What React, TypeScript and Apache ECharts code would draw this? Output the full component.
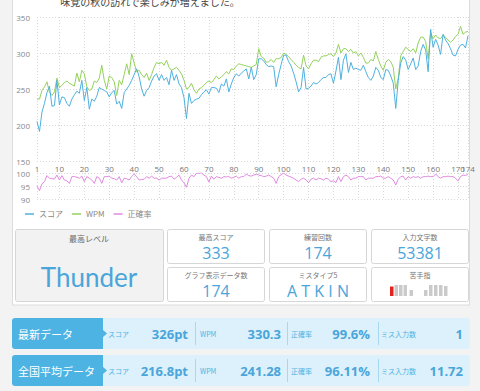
import React, { useEffect, useRef } from "react";
import * as echarts from "echarts";

const titleText = "味覚の秋の訪れで楽しみが増えました。";
const seriesNames = ["スコア", "WPM", "正確率"];
const scoreTicks = [150, 200, 250, 300, 350];
const accuracyTicks = [90, 95, 100];

const scores = [
  205, 191, 218, 230, 245, 254, 226, 227, 262, 228,
  239, 238, 230, 226, 236, 242, 247, 244, 262, 234,
  252, 222, 236, 233, 240, 252, 250, 248, 246, 239,
  245, 248, 229, 233, 223, 245, 250, 255, 262, 270,
  278, 267, 250, 240, 248, 252, 261, 268, 271, 262,
  270, 262, 266, 256, 276, 262, 270, 257, 252, 238,
  209, 244, 230, 234, 236, 237, 242, 246, 249, 243,
  252, 252, 251, 245, 257, 254, 264, 246, 257, 266,
  271, 268, 272, 275, 278, 264, 280, 263, 270, 292,
  292, 289, 284, 281, 282, 281, 253, 270, 284, 297,
  297, 288, 282, 272, 260, 246, 252, 280, 250, 251,
  254, 259, 257, 259, 263, 266, 266, 270, 271, 258,
  275, 294, 263, 290, 299, 273, 287, 277, 279, 277,
  276, 283, 274, 266, 262, 268, 280, 276, 266, 263,
  277, 276, 268, 258, 223, 262, 286, 295, 290, 277,
  285, 293, 277, 282, 302, 312, 304, 274, 333, 308,
  319, 311, 298, 326, 318, 313, 306, 297, 296, 305,
  311, 312, 307, 324,
];

const wpm = [
  236, 236, 248, 253, 260, 245, 241, 246, 265, 252,
  255, 259, 261, 258, 256, 254, 272, 260, 276, 271,
  253, 248, 250, 261, 259, 265, 283, 262, 250, 268,
  266, 260, 241, 262, 256, 270, 285, 270, 299, 286,
  274, 276, 270, 266, 272, 262, 270, 280, 287, 285,
  287, 283, 290, 280, 276, 278, 280, 276, 271, 262,
  250, 252, 258, 249, 244, 250, 252, 255, 259, 261,
  259, 263, 268, 264, 267, 270, 274, 271, 278, 277,
  282, 285, 284, 283, 282, 281, 280, 282, 284, 306,
  295, 293, 287, 288, 291, 287, 292, 292, 294, 300,
  298, 295, 291, 287, 283, 280, 278, 297, 282, 278,
  285, 290, 290, 288, 294, 296, 296, 298, 299, 295,
  300, 312, 300, 306, 306, 302, 305, 300, 302, 296,
  300, 294, 286, 286, 291, 289, 302, 291, 282, 276,
  287, 291, 288, 280, 250, 265, 296, 302, 308, 305,
  302, 306, 300, 314, 322, 322, 316, 292, 328, 320,
  325, 321, 320, 325, 322, 318, 315, 318, 323, 326,
  337, 326, 329, 330,
];

const accuracy = [
  95.0, 93.2, 95.8, 96.7, 99.0, 98.0, 97.8, 97.7, 99.2, 97.3,
  99.0, 97.3, 97.0, 96.0, 98.6, 98.6, 98.4, 98.0, 98.8, 96.7,
  98.6, 98.0, 97.3, 96.0, 98.6, 98.0, 96.0, 98.6, 98.6, 98.8,
  98.0, 97.8, 97.3, 98.6, 96.2, 98.0, 97.8, 97.3, 98.6, 99.6,
  98.6, 97.3, 97.5, 97.6, 98.6, 98.0, 98.8, 98.0, 98.0, 97.3,
  98.0, 98.0, 98.0, 98.6, 98.8, 97.6, 98.3, 99.2, 97.3, 96.2,
  94.5, 98.0, 99.2, 98.6, 99.9, 99.9, 100, 99.2, 98.6, 96.5,
  98.8, 97.6, 98.6, 98.3, 98.0, 98.6, 98.5, 98.6, 98.0, 98.3,
  98.8, 98.0, 98.6, 98.6, 99.6, 99.0, 98.8, 99.2, 99.6, 99.2,
  99.0, 98.6, 98.8, 99.2, 98.6, 98.0, 96.0, 98.6, 99.4, 99.9,
  99.2, 98.8, 98.4, 98.0, 97.3, 96.7, 97.6, 98.0, 97.3, 96.3,
  97.6, 98.0, 97.3, 98.0, 97.8, 97.3, 98.0, 97.6, 96.7, 97.0,
  96.3, 98.6, 96.7, 98.6, 99.2, 98.6, 97.3, 98.0, 98.0, 98.6,
  98.6, 98.6, 97.3, 98.0, 98.0, 98.0, 98.6, 98.6, 98.8, 98.0,
  98.0, 98.6, 98.0, 97.3, 95.4, 97.6, 98.6, 98.8, 97.3, 98.6,
  98.0, 98.6, 98.3, 98.6, 98.0, 98.6, 98.6, 98.8, 98.6, 98.6,
  99.6, 98.6, 98.0, 98.6, 98.6, 98.8, 98.6, 98.6, 98.0, 97.0,
  98.6, 99.2, 99.0, 99.6,
];

const categories = scores.map((_, i) => String(i + 1));

const bestLevelLabel = "最高レベル";
const bestLevel = "Thunder";
const statLabels = ["最高スコア", "練習回数", "入力文字数", "グラフ表示データ数", "ミスタイプ5", "苦手指"];
const statValues = ["333", "174", "53381", "174", "A T K I N", ""];
const fingerWeak = [true, false, false, false, false, false, false, false, false, false];

const rowTitles = ["最新データ", "全国平均データ"];
const itemLabels = ["スコア", "WPM", "正確率", "ミス入力数"];
const latestValues = ["326pt", "330.3", "99.6%", "1"];
const averageValues = ["216.8pt", "241.28", "96.11%", "11.72"];

const BLUE = "#4fb1df";
const GREEN = "#93d25a";
const PINK = "#e08ae0";
const VALUE_BLUE = "#4aa5da";
const JP = "'Noto Sans CJK JP', sans-serif";
const NUM = "'Open Sans', 'Noto Sans CJK JP', sans-serif";

function txt(x: number, y: number, text: string, size: number, fill: string, align = "left", extra: any = {}) {
  return {
    type: "text",
    x,
    y,
    z: 10,
    style: {
      text,
      fill,
      fontSize: size,
      fontFamily: extra.fontFamily || JP,
      fontWeight: extra.fontWeight || "normal",
      align,
      textAlign: align,
      verticalAlign: "middle",
      textVerticalAlign: "middle",
    },
  };
}

function buildGraphics() {
  const g: any[] = [];
  g.push({ type: "rect", z: -100, shape: { x: 12.5, y: -5, width: 457, height: 310 }, style: { fill: "#ffffff", stroke: "#dcdcdc", lineWidth: 1 } });
  g.push(txt(150, 1, titleText, 10, "#444", "center"));
  g.push({ type: "rect", z: 1, shape: { x: 15.5, y: 229.5, width: 148, height: 72, r: 2 }, style: { fill: "#f2f2f2", stroke: "#d6d6d6", lineWidth: 1 } });
  g.push(txt(89, 238, bestLevelLabel, 8, "#666", "center"));
  g.push(txt(89, 277, bestLevel, 26, VALUE_BLUE, "center", { fontFamily: "Lato, 'Open Sans', sans-serif" }));
  const boxX = [167.5, 269.5, 371.5];
  const boxW = [97, 97, 97];
  const rowY = [229.5, 267.5];
  for (let k = 0; k < 6; k++) {
    const c = k % 3;
    const r = Math.floor(k / 3);
    const bx = boxX[c];
    const by = rowY[r];
    const cx = bx + boxW[c] / 2;
    g.push({ type: "rect", z: 1, shape: { x: bx, y: by, width: boxW[c], height: 34, r: 2 }, style: { fill: "#ffffff", stroke: "#d6d6d6", lineWidth: 1 } });
    g.push(txt(cx, by + 7, statLabels[k], 7, "#777", "center"));
    if (statValues[k]) {
      g.push(txt(cx, by + 23, statValues[k], 16, VALUE_BLUE, "center", { fontFamily: NUM }));
    }
  }
  const fingerX = [390, 394.5, 399, 403.5, 409.5, 424, 429, 434, 439, 444];
  const fingerH = [9.5, 11, 11, 11, 6, 6, 11, 11, 11, 10];
  for (let f = 0; f < 10; f++) {
    g.push({ type: "rect", z: 2, shape: { x: fingerX[f], y: 296 - fingerH[f], width: 3.5, height: fingerH[f] }, style: { fill: fingerWeak[f] ? "#e3231b" : "#cacaca" } });
  }
  const rowsTop = [318, 355];
  const labelLeft = [108, 200, 291, 381];
  const valueRight = [188, 281, 370, 463];
  const seps = [195, 287, 378];
  for (let r = 0; r < 2; r++) {
    const y0 = rowsTop[r];
    const h = 31;
    const mid = y0 + h / 2;
    g.push({ type: "rect", z: 1, shape: { x: 100, y: y0, width: 370, height: h, r: [0, 3, 3, 0] }, style: { fill: "#dcf1fb" } });
    g.push({ type: "rect", z: 2, shape: { x: 12, y: y0, width: 91, height: h, r: [3, 0, 0, 3] }, style: { fill: "#4db3e3" } });
    g.push({ type: "polygon", z: 2, shape: { points: [[103, mid - 3.5], [107, mid], [103, mid + 3.5]] }, style: { fill: "#4db3e3" } });
    g.push(txt(18, mid, rowTitles[r], 11, "#ffffff", "left"));
    const vals = r === 0 ? latestValues : averageValues;
    for (let k = 0; k < 4; k++) {
      g.push(txt(labelLeft[k], mid, itemLabels[k], 7, "#4db3e3", "left"));
      g.push(txt(valueRight[k], mid, vals[k], 13, VALUE_BLUE, "right", { fontFamily: NUM, fontWeight: "bold" }));
    }
    for (const s of seps) {
      g.push({ type: "line", z: 2, shape: { x1: s + 0.5, y1: y0 + 4, x2: s + 0.5, y2: y0 + h - 4 }, style: { stroke: "#a6d8ef", lineWidth: 1 } });
    }
  }
  return g;
}

const lastIdx = categories.length - 1;
const gridShown = (i: number) => i === 0 || (i + 1) % 10 === 0 || i === lastIdx;
const labelShown = (i: number) => i === 0 || (i + 1) % 10 === 0;

export default function App() {
  const ref = useRef<HTMLDivElement>(null);
  useEffect(() => {
    if (!ref.current) return;
    const chart = echarts.init(ref.current, undefined, { renderer: "svg" });
    const split = { show: true, interval: (i: number) => gridShown(i), lineStyle: { color: "#d8d8d8", type: [1, 2] as any, width: 1 } };
    chart.setOption({
      animation: false,
      backgroundColor: "#f3f3f3",
      textStyle: { fontFamily: NUM },
      grid: [
        { left: 37, width: 431, top: 17, height: 144 },
        { left: 37, width: 431, top: 173, height: 26 },
      ],
      legend: {
        left: 20,
        top: 205,
        icon: "rect",
        itemWidth: 9,
        itemHeight: 1.5,
        itemGap: 9,
        textStyle: { fontSize: 8, color: "#888", fontFamily: JP },
        data: seriesNames,
      },
      xAxis: [
        {
          type: "category", gridIndex: 0, data: categories, boundaryGap: false,
          axisLine: { show: false }, axisTick: { show: false },
          axisLabel: { interval: (i: number) => labelShown(i), fontSize: 8, color: "#777", margin: 3 },
          splitLine: split,
        },
        {
          type: "category", gridIndex: 1, data: categories, boundaryGap: false, position: "top",
          axisLine: { show: false }, axisTick: { show: false },
          axisLabel: { interval: (i: number) => i === lastIdx, fontSize: 8, color: "#777", margin: 1 },
          splitLine: split,
        },
      ],
      yAxis: [
        {
          type: "value", gridIndex: 0, min: scoreTicks[0], max: scoreTicks[scoreTicks.length - 1], interval: 50,
          axisLine: { show: false }, axisTick: { show: false },
          axisLabel: { fontSize: 8, color: "#888", margin: 7 },
          splitLine: { lineStyle: { color: "#d8d8d8", type: [1, 2] as any } },
        },
        {
          type: "value", gridIndex: 1, min: accuracyTicks[0], max: accuracyTicks[accuracyTicks.length - 1], interval: 5,
          axisLine: { show: false }, axisTick: { show: false },
          axisLabel: { fontSize: 8, color: "#888", margin: 7 },
          splitLine: { lineStyle: { color: "#d8d8d8", type: [1, 2] as any } },
        },
      ],
      series: [
        { name: seriesNames[0], type: "line", xAxisIndex: 0, yAxisIndex: 0, data: scores, symbol: "none", color: BLUE, lineStyle: { width: 1, color: BLUE }, z: 3 },
        { name: seriesNames[1], type: "line", xAxisIndex: 0, yAxisIndex: 0, data: wpm, symbol: "none", color: GREEN, lineStyle: { width: 1, color: GREEN }, z: 2 },
        { name: seriesNames[2], type: "line", xAxisIndex: 1, yAxisIndex: 1, data: accuracy, symbol: "none", color: PINK, lineStyle: { width: 1, color: PINK } },
      ],
      graphic: { elements: buildGraphics() },
    });
    return () => chart.dispose();
  }, []);
  return <div ref={ref} style={{ position: "fixed", left: 0, top: 0, width: 480, height: 391 }} />;
}
